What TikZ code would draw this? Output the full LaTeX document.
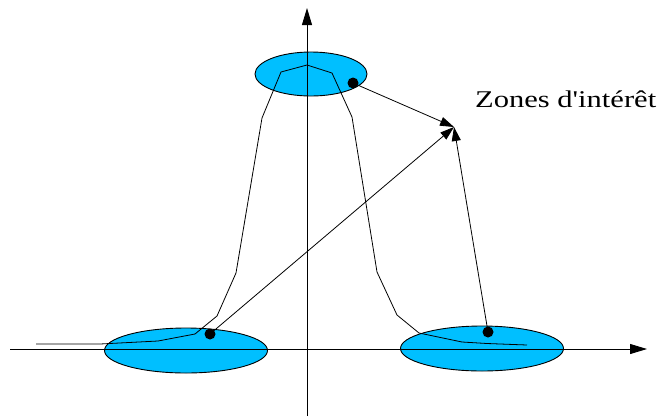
\documentclass[tikz,border=0pt]{standalone}
\usepackage{fontspec}
\setmainfont{Liberation Serif}
\usepackage{graphicx}
\usetikzlibrary{positioning,arrows.meta,shapes.geometric}
\definecolor{zone}{HTML}{00BFFF}
\tikzset{
  zonefill/.style={ellipse, draw=black, fill=zone, line width=0.9pt, inner sep=0pt},
  hotdot/.style={circle, fill=black, minimum size=11pt, inner sep=0pt},
  axis/.style={line width=0.9pt, -{Triangle[length=17pt,width=10pt]}},
  pointer/.style={line width=0.8pt, -{Triangle[length=14pt,width=9pt]}},
  profile/.style={line width=0.8pt},
}

\begin{document}
\begin{tikzpicture}[x=1pt,y=-1pt]
\useasboundingbox (0,0) rectangle (661,416);
% zones
\node[zonefill, minimum width=112pt, minimum height=44pt] (ztop) at (311,74) {};
\node[zonefill, minimum width=163pt, minimum height=45pt] (zleft) at (186,350.5) {};
\node[zonefill, minimum width=163pt, minimum height=45pt] (zright) at (482,348.5) {};
% axes
\coordinate (xa) at (10,349);
\coordinate (xb) at (647,349);
\coordinate (ya) at (307,416);
\coordinate (yb) at (307,8);
\draw[axis] (xa) -- (xb);
\draw[axis] (ya) -- (yb);
% profile
\draw[profile] (36,344) -- (100,344) -- (158,341) -- (195,334) -- (217,316)
  -- (236,273) -- (262,118) -- (281,72) -- (307,65) -- (332,73) -- (352,117)
  -- (377,272) -- (397,315) -- (419,333) -- (462,342) -- (487,343.5) -- (527,345);
% points and label
\node[hotdot] (ptop) at (353,83) {};
\node[hotdot] (pleft) at (210,334) {};
\node[hotdot] (pright) at (488,332) {};
\coordinate (target) at (454,127);
\node[anchor=base west, inner sep=0pt] (label) at (475,107)
  {\resizebox{181pt}{\height}{\fontsize{24}{28}\selectfont Zones d\textquotesingle intérêt}};
\draw[pointer] (ptop.center) -- (target);
\draw[pointer] (pleft.center) -- (target);
\draw[pointer] (pright.center) -- (target);
\end{tikzpicture}
\end{document}
